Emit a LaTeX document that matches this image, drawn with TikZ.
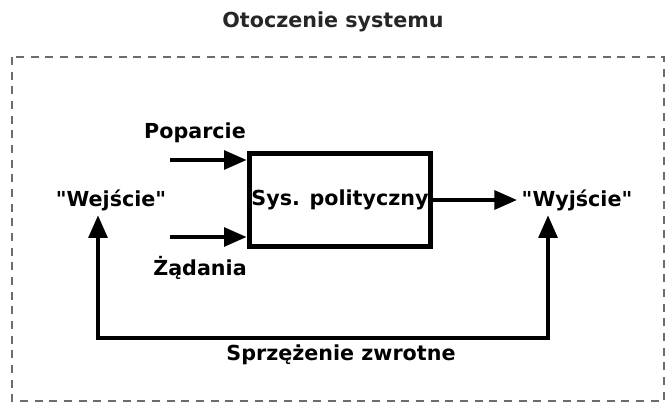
\documentclass[tikz,border=0pt]{standalone}
\usepackage{fontspec}
\setmainfont{DejaVu Sans}[Ligatures=TeXOff]
\usetikzlibrary{arrows.meta}

\begin{document}
\begin{tikzpicture}[x=0.75pt,y=-0.75pt,
		lbl/.style={font=\bfseries\fontsize{15.5}{18}\selectfont},
		arr/.style={line width=3pt,-{Triangle[length=17pt,width=14pt]}},
		fb/.style={line width=3pt,{Triangle[length=17pt,width=14pt]}-{Triangle[length=17pt,width=14pt]}}]
				\useasboundingbox (0,0) rectangle (666,404);

				\coordinate (f1) at (12,57);
				\coordinate (f2) at (664,401);
				\coordinate (p0) at (170,160);
				\coordinate (z0) at (170,237);
				\coordinate (fbl) at (98,338);
				\coordinate (fbr) at (548,338);

				\draw[gray!85!black, line width=2pt, dash pattern=on 6pt off 5pt] (f1) rectangle (f2);

				\node[lbl, text=black!85] (title) at (333,22) {Otoczenie systemu};
				\node[lbl, draw, line width=4pt, inner sep=0pt, minimum width=136pt, minimum height=70pt] (sys) at (340,200) {Sys. polityczny};
				\node[lbl] (we) at (111,200) {"Wejście"};
				\node[lbl] (wy) at (577,200) {"Wyjście"};
				\node[lbl] (pop) at (195,133) {Poparcie};
				\node[lbl] (zad) at (200,268) {Żądania};
				\node[lbl] (spz) at (341,355) {Sprzężenie zwrotne};

				\draw[arr] (p0) -- (sys.west |- p0);
				\draw[arr] (z0) -- (sys.west |- z0);
				\draw[arr] (sys.east) -- (wy.west);
				\draw[fb] (we.south -| fbl) -- (fbl) -- (fbr) -- (wy.south -| fbr);
			\end{tikzpicture}
\end{document}
